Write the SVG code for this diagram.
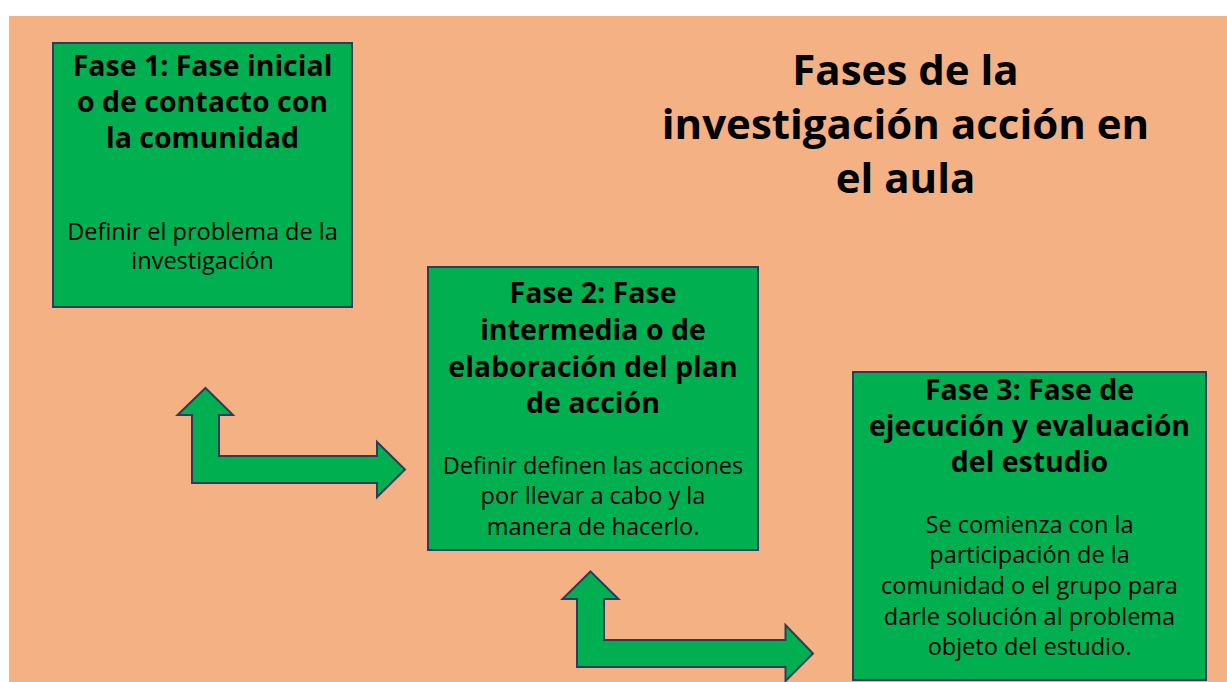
<svg xmlns="http://www.w3.org/2000/svg" width="1227" height="682" viewBox="0 0 1227 682">
<style>
.box{fill:#00b050;stroke:#2e3b5c;stroke-width:2}
.arr{fill:#00b050;stroke:#2e3b5c;stroke-width:2;stroke-linejoin:miter}
.t{font-family:"Open Sans","Liberation Sans",sans-serif;font-weight:700;font-size:28.5px;fill:#000;text-anchor:middle}
.b{font-family:"Open Sans","Liberation Sans",sans-serif;font-size:23.5px;fill:#000;text-anchor:middle}
.h{font-family:"Open Sans","Liberation Sans",sans-serif;font-weight:700;font-size:42px;fill:#000;text-anchor:middle}
</style>
<rect width="1227" height="682" fill="#fff"/>
<rect x="9" y="16" width="1218" height="666" fill="#f4b183"/>
<g id="title">
<text class="h" x="905.5" y="85">Fases de la</text>
<text class="h" x="905.5" y="139">investigación acción en</text>
<text class="h" x="905.5" y="193">el aula</text>
</g>
<g id="fase1">
<rect class="box" x="53" y="43" width="299" height="264"/>
<text class="t" x="202.5" y="76">Fase 1: Fase inicial</text>
<text class="t" x="202.5" y="112">o de contacto con</text>
<text class="t" x="202.5" y="148">la comunidad</text>
<text class="b" x="202.5" y="240">Definir el problema de la</text>
<text class="b" x="202.5" y="269">investigación</text>
</g>
<g id="fase2">
<rect class="box" x="428" y="267" width="330" height="283"/>
<text class="t" x="593" y="303">Fase 2: Fase</text>
<text class="t" x="593" y="340">intermedia o de</text>
<text class="t" x="593" y="377">elaboración del plan</text>
<text class="t" x="593" y="413">de acción</text>
<text class="b" x="593" y="474">Definir definen las acciones</text>
<text class="b" x="593" y="504">por llevar a cabo y la</text>
<text class="b" x="593" y="535">manera de hacerlo.</text>
</g>
<g id="fase3">
<rect class="box" x="853" y="372" width="353" height="308"/>
<text class="t" x="1029.5" y="400">Fase 3: Fase de</text>
<text class="t" x="1029.5" y="436">ejecución y evaluación</text>
<text class="t" x="1029.5" y="472">del estudio</text>
<text class="b" x="1029.5" y="533">Se comienza con la</text>
<text class="b" x="1029.5" y="563">participación de la</text>
<text class="b" x="1029.5" y="594">comunidad o el grupo para</text>
<text class="b" x="1029.5" y="625">darle solución al problema</text>
<text class="b" x="1029.5" y="655">objeto del estudio.</text>
</g>
<g id="connectors">
<polygon class="arr" points="205.5,388 233,415 219,415 219,456 377,456 377,442 405,469.5 377,497 377,483 192,483 192,415 177.5,415"/>
<polygon class="arr" points="590.5,571.5 618.5,599 604,599 604,640 785.5,640 785.5,625 813,653.5 785.5,681 785.5,667 577,667 577,599 562.5,599"/>
</g>
</svg>
